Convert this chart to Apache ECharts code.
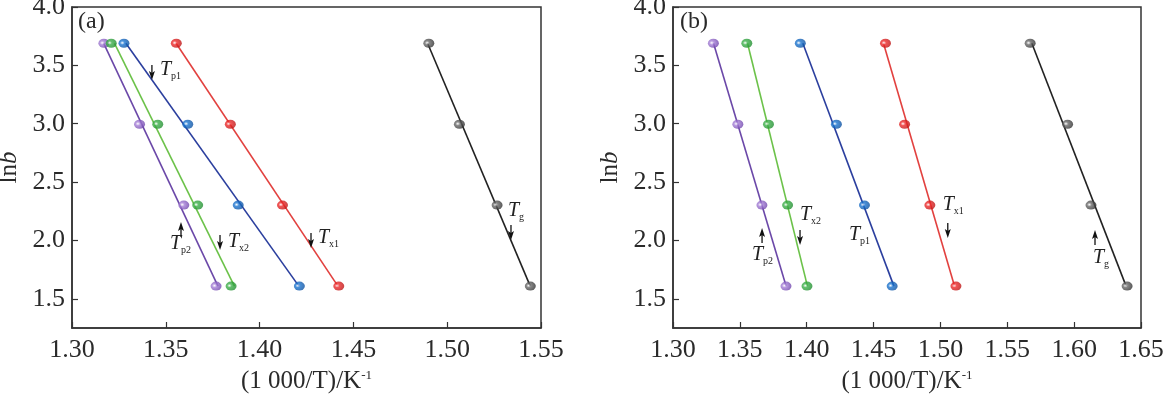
<!DOCTYPE html>
<html><head><meta charset="utf-8">
<script src="https://cdn.jsdelivr.net/npm/echarts@6/dist/echarts.min.js"></script>
<style>html,body{margin:0;padding:0;background:#fff}#c{width:1166px;height:395px}</style>
</head><body><div id="c"></div>
<script>
// ln(b) levels (heating rates 40, 20, 10, 5 K/min)
const lnB = [3.689, 2.996, 2.303, 1.609];
// Panel (a): 1000/T values
const aTp2 = [1.3170, 1.3360, 1.3596, 1.3768];
const aTx2 = [1.3209, 1.3457, 1.3670, 1.3848];
const aTp1 = [1.3277, 1.3617, 1.3886, 1.4212];
const aTx1 = [1.3556, 1.3844, 1.4122, 1.4422];
const aTg  = [1.4902, 1.5065, 1.5266, 1.5443];
// Panel (b): 1000/T values
const bTp2 = [1.3302, 1.3485, 1.3665, 1.3845];
const bTx2 = [1.3552, 1.3714, 1.3857, 1.4002];
const bTp1 = [1.3952, 1.4222, 1.4432, 1.4639];
const bTx1 = [1.4589, 1.4732, 1.4921, 1.5116];
const bTg  = [1.5671, 1.5951, 1.6126, 1.6396];
// tick labels
const yTicks = [1.5, 2.0, 2.5, 3.0, 3.5, 4.0];
const xTicksA = [1.30, 1.35, 1.40, 1.45, 1.50, 1.55];
const xTicksB = [1.30, 1.35, 1.40, 1.45, 1.50, 1.55, 1.60, 1.65];
// annotation labels: [x, y, arrow, subscript]
const annA = [
  [1.3426, 3.375, 'down', 'p1'],
  [1.3581, 2.158, 'up', 'p2'],
  [1.3789, 1.918, 'down', 'x2'],
  [1.4274, 1.935, 'down', 'x1'],
  [1.5340, 2.004, 'down', 'g']
];
const annB = [
  [1.3666, 2.107, 'up', 'p2'],
  [1.3950, 1.961, 'down', 'x2'],
  [1.4316, 2.047, 'none', 'p1'],
  [1.5055, 2.021, 'down', 'x1'],
  [1.6156, 2.090, 'up', 'g']
];

const FONT = 'Liberation Serif, Times New Roman, serif';
const TXT = '#2a2a2a';
const seriesStyle = [
  {line:'#6b48a8', ball:'#a57fd6', dark:'#6a3fa8'},
  {line:'#6cc24a', ball:'#3db04a', dark:'#1f8a2e'},
  {line:'#2b3f9e', ball:'#1b75d0', dark:'#0d4d9a'},
  {line:'#e2413f', ball:'#ee2a2a', dark:'#b51414'},
  {line:'#222222', ball:'#6a6a6a', dark:'#2a2a2a'}
];

function fit(xs, ys){
  const n = xs.length;
  let my=0, mx=0; for(let i=0;i<n;i++){my+=ys[i]; mx+=xs[i];} my/=n; mx/=n;
  let sxy=0, syy=0; for(let i=0;i<n;i++){sxy+=(ys[i]-my)*(xs[i]-mx); syy+=(ys[i]-my)**2;}
  const m = sxy/syy, c = mx - m*my;
  const y0 = Math.max(...ys), y1 = Math.min(...ys);
  return [[m*y0+c, y0],[m*y1+c, y1]];
}

function ballColor(s){
  return new echarts.graphic.RadialGradient(0.35, 0.45, 0.7, [
    {offset:0, color:'#ffffff'},
    {offset:0.3, color:s.ball},
    {offset:1, color:s.dark}
  ]);
}

const series = [];
function addPanel(idx, sets){
  sets.forEach((xs, k) => {
    const st = seriesStyle[k];
    series.push({
      type:'line', xAxisIndex:idx, yAxisIndex:idx, data: fit(xs, lnB),
      showSymbol:false, symbol:'none', silent:true,
      lineStyle:{color:st.line, width:1.6}, z:2
    });
    series.push({
      type:'scatter', xAxisIndex:idx, yAxisIndex:idx,
      data: xs.map((x,i)=>[x, lnB[i]]),
      symbol:'circle', symbolSize:[11,9],
      itemStyle:{color:ballColor(st)}, z:3
    });
  });
}
addPanel(0, [aTp2, aTx2, aTp1, aTx1, aTg]);
addPanel(1, [bTp2, bTx2, bTp1, bTx1, bTg]);

// text offsets (px) relative to arrow tip, per annotation
const offA = [[8,-10],[-11,22],[8,-8],[7,-10],[-3,-29]];
const offB = [[-10,27],[0,-30],[0,0],[-5,-33],[-2,28]];

function annSeries(idx, ann, off){
  return {
    type:'custom', xAxisIndex:idx, yAxisIndex:idx, clip:false, silent:true, z:5,
    data: ann.map(a=>[a[0], a[1]]),
    renderItem(params, api){
      const a = ann[params.dataIndex], o = off[params.dataIndex];
      const p = api.coord([api.value(0), api.value(1)]);
      const ch = [];
      const len = 15;
      if(a[2] !== 'none'){
        const s = a[2]==='down' ? -1 : 1;
        ch.push({type:'line', shape:{x1:p[0], y1:p[1]+s*len, x2:p[0], y2:p[1]+s*6},
          style:{stroke:'#111', lineWidth:1.3}});
        ch.push({type:'polygon', shape:{points:[[p[0],p[1]],[p[0]-3,p[1]+s*9],[p[0],p[1]+s*7],[p[0]+3,p[1]+s*9]]},
          style:{fill:'#111'}});
      }
      const tx = p[0]+o[0], ty = p[1]+o[1];
      ch.push({type:'text', style:{x:tx, y:ty, text:'T', fill:'#222', font:'italic 20px '+FONT, textAlign:'left', textVerticalAlign:'middle'}});
      ch.push({type:'text', style:{x:tx+11, y:ty+6, text:a[3], fill:'#222', font:'10px '+FONT, textAlign:'left', textVerticalAlign:'middle'}});
      return {type:'group', children:ch};
    }
  };
}
series.push(annSeries(0, annA, offA));
series.push(annSeries(1, annB, offB));

function xAxis(idx, ticks){
  return {
    type:'value', gridIndex:idx, min:ticks[0], max:ticks[ticks.length-1], interval:0.05,
    name:'(1 000/T)/K{s|-1}', nameLocation:'middle', nameGap:41,
    nameTextStyle:{fontFamily:FONT, fontSize:25, color:TXT, rich:{s:{fontFamily:FONT, fontSize:13, color:TXT, padding:[0,0,12,0]}}},
    axisLine:{show:true, onZero:false, lineStyle:{color:'#333', width:1.5}},
    axisTick:{show:true, inside:true, length:6, lineStyle:{color:'#333', width:1.2}},
    axisLabel:{margin:9, fontFamily:FONT, fontSize:26, color:TXT, formatter:v=>v.toFixed(2)},
    splitLine:{show:false}
  };
}
function yAxis(idx){
  return {
    type:'value', gridIndex:idx, min:1.25, max:4.0,
    name:'ln{i|b}', nameLocation:'middle', nameGap:50, nameRotate:90,
    nameTextStyle:{fontFamily:FONT, fontSize:25, color:TXT, rich:{i:{fontFamily:FONT, fontSize:25, fontStyle:'italic', color:TXT}}},
    axisLine:{show:true, onZero:false, lineStyle:{color:'#333', width:1.5}},
    axisTick:{show:true, inside:true, length:6, customValues:yTicks, lineStyle:{color:'#333', width:1.2}},
    axisLabel:{margin:7, fontFamily:FONT, fontSize:26, color:TXT, customValues:yTicks, formatter:v=>v.toFixed(1)},
    splitLine:{show:false}
  };
}

const chart = echarts.init(document.getElementById('c'), null, {renderer:'canvas'});
chart.setOption({
  animation:false,
  backgroundColor:'#ffffff',
  grid:[
    {left:72, top:7, width:469, height:321, show:true, borderColor:'#333', borderWidth:1.5, backgroundColor:'transparent', outerBoundsMode:'none', containLabel:false},
    {left:673, top:7, width:468, height:321, show:true, borderColor:'#333', borderWidth:1.5, backgroundColor:'transparent', outerBoundsMode:'none', containLabel:false}
  ],
  xAxis:[xAxis(0, xTicksA), xAxis(1, xTicksB)],
  yAxis:[yAxis(0), yAxis(1)],
  graphic:[
    {type:'text', left:78, top:10, style:{text:'(a)', font:'24px '+FONT, fill:TXT}},
    {type:'text', left:680, top:10, style:{text:'(b)', font:'24px '+FONT, fill:TXT}}
  ],
  series
});
</script></body></html>
